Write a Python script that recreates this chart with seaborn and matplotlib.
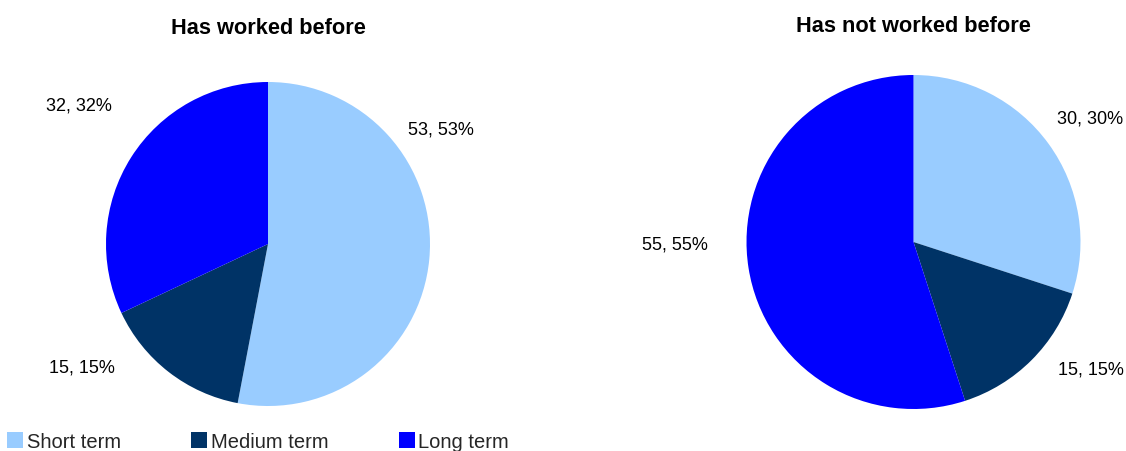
import matplotlib
matplotlib.use("Agg")
import matplotlib.pyplot as plt
import seaborn as sns
from matplotlib.lines import Line2D

categories = ["Short term", "Medium term", "Long term"]
worked_values = [53, 15, 32]
not_worked_values = [30, 15, 55]
titles = ["Has worked before", "Has not worked before"]

colors = ["#99CCFF", "#003366", "#0000FF"]

sns.set_theme(style="white")
plt.rcParams["font.family"] = ["Liberation Sans", "DejaVu Sans"]

W, H = 1126, 452
fig = plt.figure(figsize=(W / 100, H / 100), dpi=100)
palette = sns.color_palette(colors)

# (cx, cy, r) in pixels from top-left, label positions in radius units
layouts = [
    dict(cx=268, cy=245, r=162, title_y=28,
         label_pos=[(1.07, 0.71), (-1.15, -0.76), (-1.17, 0.86)]),
    dict(cx=913.5, cy=243, r=167, title_y=26,
         label_pos=[(1.06, 0.74), (1.06, -0.76), (-1.43, -0.01)]),
]

for values, title, lay in zip([worked_values, not_worked_values], titles, layouts):
    cx, cy, r = lay["cx"], lay["cy"], lay["r"]
    ax = fig.add_axes([(cx - r) / W, (H - cy - r) / H, 2 * r / W, 2 * r / H])
    total = sum(values)
    labels = [f"{v}, {round(v / total * 100)}%" for v in values]
    wedges, texts = ax.pie(values, colors=palette, startangle=90, counterclock=False,
                           radius=1, labels=labels, labeldistance=1.2,
                           wedgeprops=dict(linewidth=0),
                           textprops=dict(fontsize=13, color="black"))
    for t, (x, y) in zip(texts, lay["label_pos"]):
        t.set_position((x, y))
        t.set_ha("center")
        t.set_va("center")
    ax.set_xlim(-1, 1)
    ax.set_ylim(-1, 1)
    ax.set_aspect("equal")
    ax.axis("off")
    fig.text(cx / W, 1 - lay["title_y"] / H, title, ha="center", va="center",
             fontsize=15.7, fontweight="bold", color="black")

handles = [Line2D([0], [0], marker="s", linestyle="none", markersize=11,
                  markerfacecolor=c, markeredgewidth=0) for c in palette]
fig.legend(handles, categories, loc="center left", bbox_to_anchor=(8 / W, 1 - 443 / H),
           ncol=3, frameon=False, fontsize=14.5, handlelength=0.7, handletextpad=0.22,
           columnspacing=3.55, borderpad=0, borderaxespad=0)

fig.savefig("out.png", dpi=100, facecolor="white")
